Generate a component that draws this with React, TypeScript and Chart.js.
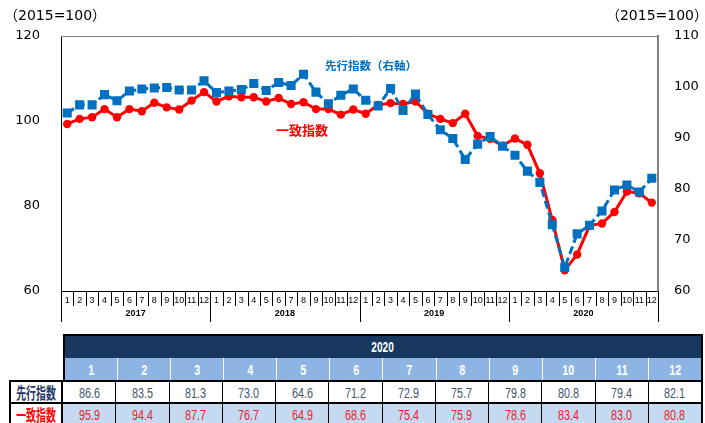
import React, { useEffect, useRef } from "react";
import { Chart, registerables } from "chart.js";

Chart.register(...registerables);

const years = ["2017", "2018", "2019", "2020"];
const monthNums = ["1", "2", "3", "4", "5", "6", "7", "8", "9", "10", "11", "12"];
const categories = years.flatMap((y) => monthNums.map((m) => `${y}-${m}`));

const leadingIndex = [
  94.9, 96.5, 96.5, 98.5, 97.3, 99.2, 99.6, 99.8, 99.9, 99.4, 99.4, 101.2,
  98.9, 99.2, 99.5, 100.7, 99.3, 100.9, 100.3, 102.5, 99.0, 96.7, 98.4, 99.6,
  97.4, 96.3, 99.7, 95.4, 98.6, 94.6, 91.6, 89.9, 85.8, 88.8, 90.3, 88.4,
  86.6, 83.5, 81.3, 73.0, 64.6, 71.2, 72.9, 75.7, 79.8, 80.8, 79.4, 82.1,
];
const coincidentIndex = [
  99.3, 100.5, 100.9, 102.8, 100.9, 102.8, 102.3, 104.3, 103.2, 102.7, 104.8, 106.8,
  104.6, 105.8, 105.6, 105.6, 104.6, 105.4, 104.0, 104.4, 102.8, 102.8, 101.5, 102.7,
  101.7, 103.8, 104.2, 104.0, 104.6, 101.7, 100.5, 99.5, 101.7, 96.5, 95.8, 94.2,
  95.9, 94.4, 87.7, 76.7, 64.9, 68.6, 75.4, 75.9, 78.6, 83.4, 83.0, 80.8,
];

const leftTicks = [60, 80, 100, 120];
const rightTicks = [60, 70, 80, 90, 100, 110];

const tableYear = "2020";
const tableLeading = ["86.6", "83.5", "81.3", "73.0", "64.6", "71.2", "72.9", "75.7", "79.8", "80.8", "79.4", "82.1"];
const tableCoincident = ["95.9", "94.4", "87.7", "76.7", "64.9", "68.6", "75.4", "75.9", "78.6", "83.4", "83.0", "80.8"];

const leadingLabel = "先行指数";
const coincidentLabel = "一致指数";
const leadingNote = "先行指数（右軸）";
const baseNote = "（2015=100）";

const BLUE = "#0070C0";
const RED = "#FF0000";
const CJK = '"Noto Sans CJK JP", sans-serif';
const SANS = '"Liberation Sans", Arial, sans-serif';

const decorPlugin = {
  id: "decor",
  afterDraw(chart: any) {
    const ctx = chart.ctx;
    const xs = chart.scales.x;
    const { left, right, top, bottom } = chart.chartArea;
    ctx.save();
    ctx.strokeStyle = "#808080";
    ctx.lineWidth = 1;
    ctx.beginPath();
    ctx.moveTo(left, top + 0.5);
    ctx.lineTo(right, top + 0.5);
    ctx.stroke();
    const n = categories.length;
    const w = (right - left) / n;
    ctx.strokeStyle = "#000";
    for (let k = 0; k <= n; k++) {
      const xx = Math.round(left + k * w) + 0.5;
      const yEnd = k % 12 === 0 ? bottom + 31 : bottom + 15;
      ctx.beginPath();
      ctx.moveTo(xx, bottom);
      ctx.lineTo(xx, yEnd);
      ctx.stroke();
    }
    ctx.fillStyle = "#000";
    ctx.textAlign = "center";
    ctx.textBaseline = "middle";
    ctx.font = `9px ${SANS}`;
    categories.forEach((_, i) => {
      ctx.fillText(monthNums[i % 12], xs.getPixelForValue(i), bottom + 10);
    });
    ctx.font = `bold 9px ${SANS}`;
    years.forEach((y, j) => {
      const cx = (xs.getPixelForValue(j * 12) + xs.getPixelForValue(j * 12 + 11)) / 2;
      ctx.fillText(y, cx, bottom + 23);
    });
    ctx.font = `14px "DejaVu Sans", ${CJK}`;
    ctx.textAlign = "left";
    ctx.fillText(baseNote, 4, 16);
    ctx.textAlign = "right";
    ctx.fillText(baseNote, 708, 16);
    ctx.textAlign = "left";
    ctx.font = `bold 11.5px ${CJK}`;
    ctx.fillStyle = BLUE;
    ctx.fillText(leadingNote, 325, 66);
    ctx.font = `bold 13px ${CJK}`;
    ctx.fillStyle = RED;
    ctx.fillText(coincidentLabel, 276, 130);
    ctx.restore();
  },
};

function ChartCanvas() {
  const ref = useRef<HTMLCanvasElement>(null);
  useEffect(() => {
    if (!ref.current) return;
    const chart = new Chart(ref.current, {
      type: "line",
      data: {
        labels: categories,
        datasets: [
          {
            label: leadingLabel,
            data: leadingIndex,
            yAxisID: "y1",
            borderColor: BLUE,
            backgroundColor: BLUE,
            borderWidth: 3,
            borderDash: [8, 4],
            pointStyle: "rect",
            pointRadius: 6.4,
            pointBorderWidth: 0,
            tension: 0,
          },
          {
            label: coincidentLabel,
            data: coincidentIndex,
            yAxisID: "y",
            borderColor: RED,
            backgroundColor: RED,
            borderWidth: 3,
            pointStyle: "circle",
            pointRadius: 4.2,
            pointBorderWidth: 0,
            tension: 0,
          },
        ],
      },
      options: {
        responsive: false,
        animation: false,
        devicePixelRatio: 1,
        layout: { padding: { top: 36, left: 0, right: 0, bottom: 0 } },
        plugins: { legend: { display: false }, tooltip: { enabled: false } },
        scales: {
          x: {
            type: "category",
            offset: true,
            grid: { display: false, drawTicks: false },
            border: { display: true, color: "#000", width: 1 },
            ticks: { display: false },
            afterFit: (s: any) => {
              s.height = 34;
            },
          },
          y: {
            position: "left",
            min: 60,
            max: 120,
            afterBuildTicks: (s: any) => {
              s.ticks = leftTicks.map((v) => ({ value: v }));
            },
            grid: { display: false, drawTicks: false },
            border: { display: true, color: "#000", width: 1 },
            ticks: { color: "#000", padding: 21, font: { family: "DejaVu Sans", size: 13 } },
            afterFit: (s: any) => {
              s.width = 61;
            },
          },
          y1: {
            position: "right",
            min: 60,
            max: 110,
            afterBuildTicks: (s: any) => {
              s.ticks = rightTicks.map((v) => ({ value: v }));
            },
            grid: { display: false, drawTicks: false },
            border: { display: true, color: "#808080", width: 2 },
            ticks: { color: "#000", padding: 16, font: { family: "DejaVu Sans", size: 13 } },
            afterFit: (s: any) => {
              s.width = 47;
            },
          },
        },
      },
      plugins: [decorPlugin],
    });
    return () => chart.destroy();
  }, []);
  return (
    <canvas
      ref={ref}
      width={705}
      height={325}
      style={{ position: "absolute", left: 0, top: 0, width: 705, height: 325 }}
    />
  );
}

const cellBase: React.CSSProperties = {
  flex: "1 1 0",
  display: "flex",
  alignItems: "center",
  justifyContent: "center",
  boxSizing: "border-box",
  overflow: "hidden",
};

function Narrow({ t, style }: { t: string; style: React.CSSProperties }) {
  return <span style={{ display: "inline-block", whiteSpace: "nowrap", ...style }}>{t}</span>;
}

function DataTable() {
  return (
    <div style={{ position: "absolute", left: 9, top: 334, width: 694 }}>
      <div style={{ display: "flex", height: 24 }}>
        <div style={{ width: 54 }} />
        <div
          style={{
            flex: 1,
            background: "#17375E",
            border: "2px solid #000",
            borderBottom: "none",
            boxSizing: "border-box",
            display: "flex",
            alignItems: "center",
            justifyContent: "center",
          }}
        >
          <Narrow
            t={tableYear}
            style={{ color: "#fff", fontFamily: SANS, fontWeight: "bold", fontSize: 14, transform: "scaleX(0.72)" }}
          />
        </div>
      </div>
      <div style={{ display: "flex", height: 22 }}>
        <div style={{ width: 54 }} />
        <div style={{ flex: 1, display: "flex", borderLeft: "2px solid #000", borderRight: "2px solid #000", boxSizing: "border-box" }}>
          {monthNums.map((m, i) => (
            <div
              key={m}
              style={{
                ...cellBase,
                background: "#8DB4E2",
                borderLeft: i === 0 ? "none" : "1px solid #fff",
              }}
            >
              <Narrow
                t={m}
                style={{ color: "#fff", fontFamily: SANS, fontWeight: "bold", fontSize: 15, transform: "scaleX(0.72)" }}
              />
            </div>
          ))}
        </div>
      </div>
      {[
        { label: leadingLabel, vals: tableLeading, lc: "#1F3864", vc: "#44546A", bg: "#fff" },
        { label: coincidentLabel, vals: tableCoincident, lc: "#FF0000", vc: "#F0202A", bg: "#C5D9F1" },
      ].map((row) => (
        <div key={row.label} style={{ display: "flex", height: 22, borderTop: "2px solid #000", boxSizing: "border-box" }}>
          <div
            style={{
              width: 54,
              borderLeft: "2px solid #000",
              borderRight: "2px solid #000",
              boxSizing: "border-box",
              background: "#fff",
              display: "flex",
              alignItems: "center",
              justifyContent: "center",
              overflow: "hidden",
            }}
          >
            <Narrow
              t={row.label}
              style={{ fontFamily: CJK, fontWeight: "bold", fontSize: 16, color: row.lc, transform: "scaleX(0.62)" }}
            />
          </div>
          <div style={{ flex: 1, display: "flex", borderRight: "2px solid #000", boxSizing: "border-box" }}>
            {row.vals.map((v, i) => (
              <div
                key={i}
                style={{
                  ...cellBase,
                  background: row.bg,
                  borderLeft: i === 0 ? "none" : "1px solid #000",
                }}
              >
                <Narrow t={v} style={{ color: row.vc, fontFamily: SANS, fontSize: 15, transform: "scaleX(0.72)" }} />
              </div>
            ))}
          </div>
        </div>
      ))}
    </div>
  );
}

export default function App() {
  return (
    <div style={{ position: "absolute", left: 0, top: 0, width: 705, height: 423, background: "#fff", overflow: "hidden" }}>
      <ChartCanvas />
      <DataTable />
    </div>
  );
}
